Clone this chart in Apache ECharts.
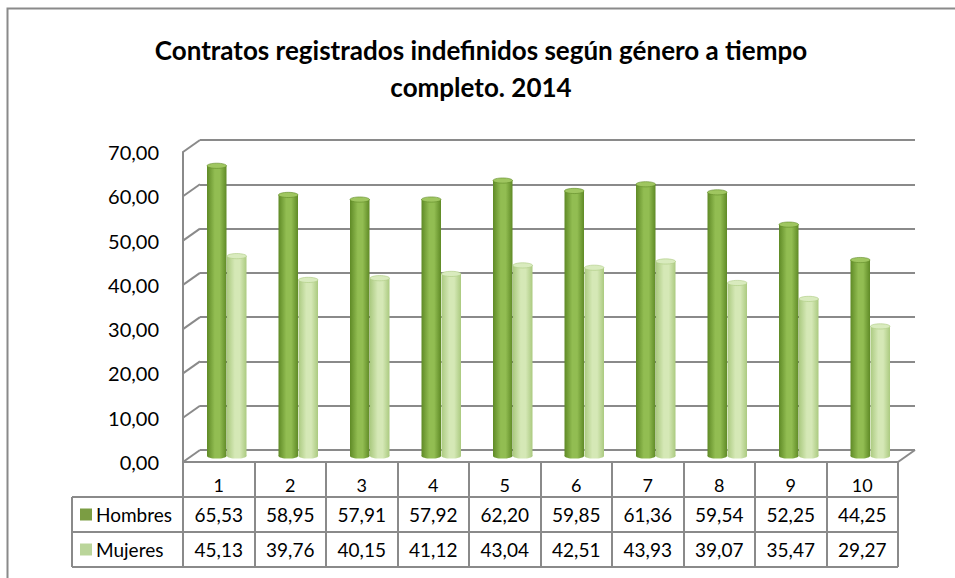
<!DOCTYPE html>
<html><head><meta charset="utf-8">
<script src="https://cdn.jsdelivr.net/npm/echarts@6/dist/echarts.min.js"></script>
<style>html,body{margin:0;padding:0;background:#fff}#c{width:955px;height:578px}</style>
</head><body><div id="c"></div>
<script>
const categories = ['1','2','3','4','5','6','7','8','9','10'];
const hombres = [65.53,58.95,57.91,57.92,62.20,59.85,61.36,59.54,52.25,44.25];
const mujeres = [45.13,39.76,40.15,41.12,43.04,42.51,43.93,39.07,35.47,29.27];
const seriesNames = ['Hombres','Mujeres'];
const yTicks = [0,10,20,30,40,50,60,70];
const titleText = 'Contratos registrados indefinidos según género a tiempo\ncompleto. 2014';

const FONT = 'Lato';
const GRAY = '#8a8a8a';
const fmt = v => v.toFixed(2).replace('.', ',');

const chart = echarts.init(document.getElementById('c'), null, {renderer:'svg'});

function cylinder(offset, g0, g1, capColor){
  return function(params, api){
    const i = api.value(0), v = api.value(1);
    const top = api.coord([i, v]);
    const base = api.coord([i, 0]);
    const w = 19.5, ry = 2.6;
    const cx = top[0] + offset;
    const grad = new echarts.graphic.LinearGradient(0,0,1,0,[
      {offset:0,color:g0},{offset:0.4,color:g1},{offset:0.65,color:g1},{offset:1,color:g0}]);
    return {type:'group', children:[
      {type:'rect', shape:{x:cx-w/2, y:top[1], width:w, height:base[1]-top[1]}, style:{fill:grad}},
      {type:'ellipse', shape:{cx:cx, cy:base[1], rx:w/2, ry:ry}, style:{fill:grad}},
      {type:'ellipse', shape:{cx:cx, cy:top[1], rx:w/2, ry:ry}, style:{fill:capColor, stroke:g0, lineWidth:0.6}}
    ]};
  };
}

const option = {
  backgroundColor:'#fff',
  animation:false,
  title:{text:titleText, left:476, top:26, textAlign:'center',
    textStyle:{fontFamily:FONT, fontWeight:'bold', fontSize:26, lineHeight:37, color:'#000'}},
  grid:[
    {left:200, right:40, top:140, bottom:128},   // back wall
    {left:183, right:57, top:152, bottom:116},   // front
    {left:191.5, right:48.5, top:146, bottom:122} // bar depth
  ],
  xAxis:[
    {gridIndex:0, type:'category', data:categories, axisLine:{show:false}, axisTick:{show:false}, axisLabel:{show:false}},
    {gridIndex:1, type:'category', data:categories,
      axisLine:{show:true, lineStyle:{color:GRAY, width:2}},
      axisTick:{show:true, length:105, lineStyle:{color:GRAY, width:2}},
      axisLabel:{show:true, margin:14, fontFamily:FONT, fontSize:18, color:'#000'}},
    {gridIndex:2, type:'category', data:categories, show:false}
  ],
  yAxis:[
    {gridIndex:0, type:'value', min:0, max:70, interval:10,
      axisLine:{show:false}, axisTick:{show:false}, axisLabel:{show:false},
      splitLine:{show:true, lineStyle:{color:GRAY, width:2}}},
    {gridIndex:1, type:'value', min:0, max:70, interval:10,
      axisLine:{show:true, lineStyle:{color:GRAY, width:2}}, axisTick:{show:false},
      splitLine:{show:false},
      axisLabel:{margin:24, fontFamily:FONT, fontSize:20, color:'#000', formatter:v=>fmt(v)}},
    {gridIndex:2, type:'value', min:0, max:70, interval:10, show:false}
  ],
  series:[
    {name:seriesNames[0], type:'custom', xAxisIndex:2, yAxisIndex:2,
      data:hombres.map((v,i)=>[i,v]), renderItem:cylinder(-10.5,'#5f8a26','#92bd52','#9fc660')},
    {name:seriesNames[1], type:'custom', xAxisIndex:2, yAxisIndex:2,
      data:mujeres.map((v,i)=>[i,v]), renderItem:cylinder(9.5,'#abca80','#d5e8b6','#d9ebbe')}
  ]
};
chart.setOption(option);

// Decorative 3D wall edges and data table
const els = [];
els.push({type:'rect', shape:{x:7.5, y:8.5, width:960, height:590}, style:{fill:'none', stroke:GRAY, lineWidth:2}, silent:true});
const dx = 17, dy = -12;
yTicks.forEach(t=>{
  const py = chart.convertToPixel({yAxisIndex:1}, t);
  els.push({type:'line', shape:{x1:183, y1:py, x2:183+dx, y2:py+dy}, style:{stroke:GRAY, lineWidth:2}});
});
const py0 = chart.convertToPixel({yAxisIndex:1}, 0);
els.push({type:'line', shape:{x1:898, y1:py0, x2:898+dx, y2:py0+dy}, style:{stroke:GRAY, lineWidth:2}});

// table rows
const rowTop = py0, rowH = 35;
const tableLeft = 72, tableRight = 898;
[1,2,3].forEach(r=>{
  const y = rowTop + rowH*r;
  els.push({type:'line', shape:{x1:tableLeft, y1:y, x2:tableRight, y2:y}, style:{stroke:GRAY, lineWidth:2}});
});
els.push({type:'line', shape:{x1:tableLeft, y1:rowTop+rowH, x2:tableLeft, y2:rowTop+rowH*3}, style:{stroke:GRAY, lineWidth:2}});
const rows = [hombres, mujeres];
const keyColors = ['#7b9d43','#bad59a'];
rows.forEach((arr, r)=>{
  const cy = rowTop + rowH*(r+1) + rowH/2;
  els.push({type:'rect', shape:{x:80, y:cy-6, width:12, height:12}, style:{fill:keyColors[r]}});
  els.push({type:'text', x:96, y:cy, style:{text:seriesNames[r], fontFamily:FONT, fontSize:19, fill:'#000', textVerticalAlign:'middle', textAlign:'left'}});
  arr.forEach((v,i)=>{
    const x = chart.convertToPixel({xAxisIndex:1}, i);
    els.push({type:'text', x:x, y:cy, style:{text:fmt(v), fontFamily:FONT, fontSize:19, fill:'#000', textAlign:'center', textVerticalAlign:'middle'}});
  });
});
chart.setOption({graphic:{elements:els}});
</script></body></html>
